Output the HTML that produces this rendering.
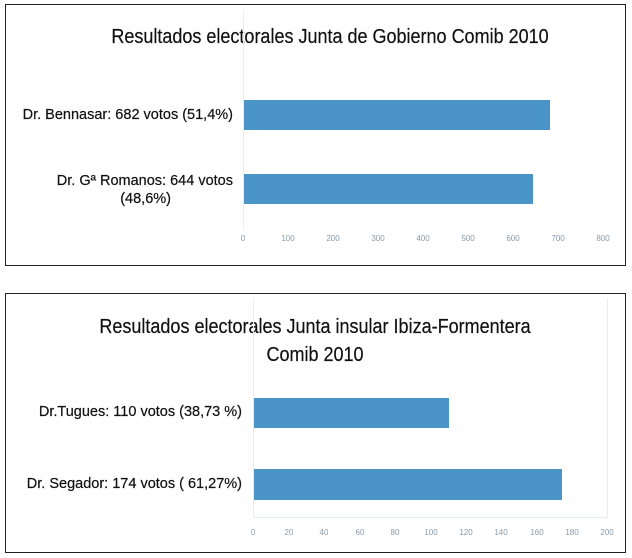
<!DOCTYPE html>
<html><head><style>
body{margin:0;background:#fff;width:632px;height:558px;position:relative;font-family:"Liberation Sans",sans-serif;overflow:hidden}
.box{position:absolute;border:1.3px solid #222;box-sizing:border-box}
.t{position:absolute;font-size:20px;color:#111;white-space:nowrap;text-align:center;transform:scaleX(0.9);transform-origin:center;-webkit-text-stroke:0.2px #111}
.l{position:absolute;font-size:14.5px;color:#111;text-align:right;line-height:18px;-webkit-text-stroke:0.2px #111}
.bar{position:absolute;background:#4a94c8}
.tk{position:absolute;font-size:8px;color:#8a9aa8;transform:translateX(-50%)}
.ax{position:absolute;background:#e4eef6}
</style></head><body>
<div class="box" style="left:5px;top:4px;width:621px;height:262px"></div>
<div class="t" style="left:70px;width:520px;top:26px">Resultados electorales Junta de Gobierno Comib 2010</div>
<div class="ax" style="left:243px;top:10px;width:1px;height:220px"></div>
<div class="l" style="left:5px;width:228px;top:106px">Dr. Bennasar: 682 votos (51,4%)</div>
<div class="l" style="left:5px;width:228px;top:172px">Dr. Gª Romanos: 644 votos<br><span style="margin-right:62px">(48,6%)</span></div>
<div class="bar" style="left:244px;top:100px;width:306px;height:30px"></div>
<div class="bar" style="left:244px;top:174px;width:289px;height:30px"></div>
<div class="tk" style="left:243px;top:234px">0</div>
<div class="tk" style="left:288px;top:234px">100</div>
<div class="tk" style="left:333px;top:234px">200</div>
<div class="tk" style="left:378px;top:234px">300</div>
<div class="tk" style="left:423px;top:234px">400</div>
<div class="tk" style="left:468px;top:234px">500</div>
<div class="tk" style="left:513px;top:234px">600</div>
<div class="tk" style="left:558px;top:234px">700</div>
<div class="tk" style="left:603px;top:234px">800</div>

<div class="box" style="left:5px;top:293px;width:621px;height:260px"></div>
<div class="t" style="left:60px;width:510px;top:313px;line-height:28px">Resultados electorales Junta insular Ibiza-Formentera<br>Comib 2010</div>
<div class="ax" style="left:253px;top:298px;width:1px;height:220px"></div>
<div class="ax" style="left:253px;top:517px;width:354px;height:1px"></div>
<div class="ax" style="left:607px;top:298px;width:1px;height:220px"></div>
<div class="l" style="left:5px;width:237px;top:403px">Dr.Tugues: 110 votos (38,73 %)</div>
<div class="l" style="left:5px;width:237px;top:475px">Dr. Segador: 174 votos ( 61,27%)</div>
<div class="bar" style="left:254px;top:398px;width:195px;height:30px"></div>
<div class="bar" style="left:254px;top:469px;width:308px;height:31px"></div>
<div class="tk" style="left:253px;top:528px">0</div>
<div class="tk" style="left:289px;top:528px">20</div>
<div class="tk" style="left:324px;top:528px">40</div>
<div class="tk" style="left:360px;top:528px">60</div>
<div class="tk" style="left:395px;top:528px">80</div>
<div class="tk" style="left:431px;top:528px">100</div>
<div class="tk" style="left:466px;top:528px">120</div>
<div class="tk" style="left:501px;top:528px">140</div>
<div class="tk" style="left:537px;top:528px">160</div>
<div class="tk" style="left:572px;top:528px">180</div>
<div class="tk" style="left:607px;top:528px">200</div>
</body></html>
